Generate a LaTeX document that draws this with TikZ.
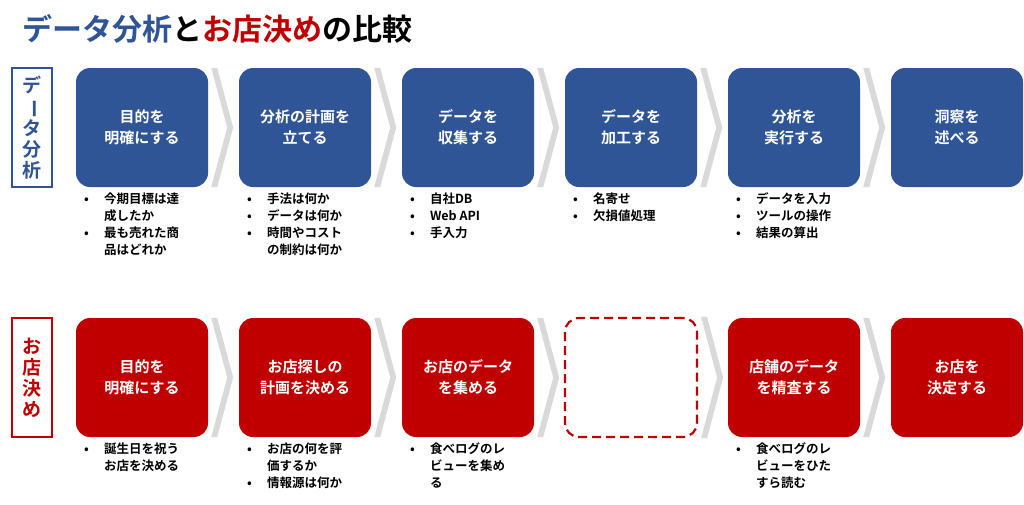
\documentclass[tikz,border=0pt]{standalone}
\usepackage{fontspec}
\setmainfont{Noto Sans CJK JP}[BoldFont={Noto Sans CJK JP Bold}]
\usetikzlibrary{positioning,calc}
\definecolor{dblue}{HTML}{2F5597}
\definecolor{dred}{HTML}{C00000}
\begin{document}
\begin{tikzpicture}[x=1pt,y=-1pt]
  % Define styles
  \tikzset{
    stage/.style={
      draw=none,
      rounded corners=14pt,
      minimum width=132pt,
      minimum height=119pt,
      inner sep=0pt,
      align=center,
      text=white,
      font=\bfseries\fontsize{15}{21}\selectfont
    },
    side/.style={
      draw,
      line width=2pt,
      fill=white,
      minimum width=40pt,
      minimum height=119pt,
      inner sep=0pt,
      align=center,
      font=\bfseries\fontsize{19}{21}\selectfont
    },
    chev/.style={fill=black!15, draw=none},
    notes/.style={
      anchor=north west,
      align=left,
      inner sep=0pt,
      font=\bfseries\fontsize{12.5}{17}\selectfont
    }
  }
  \useasboundingbox (0,0) rectangle (1024,504);

  % Title
  \node[anchor=west, inner sep=0pt, font=\bfseries\fontsize{30}{34}\selectfont] (title) at (22,29)
    {\textcolor{dblue}{データ分析}と\textcolor{dred}{お店決め}の比較};

  % Side labels
  \node[side, draw=dblue, text=dblue] (sa) at (32,127.5)
    {デ\\\rotatebox[origin=c]{-90}{ー}\\タ\\分\\析};
  \node[side, draw=dred, text=dred] (sb) at (32,377.5)
    {お\\店\\決\\め};

  % Upper row
  \foreach \i/\t in {1/{目的を\\明確にする}, 2/{分析の計画を\\立てる}, 3/{データを\\収集する},
                     4/{データを\\加工する}, 5/{分析を\\実行する}, 6/{洞察を\\述べる}} {
    \node[stage, fill=dblue] (a\i) at (142+163*\i-163,127.5) {\t};
  }
  % Lower row
  \foreach \i/\t in {1/{目的を\\明確にする}, 2/{お店探しの\\計画を決める}, 3/{お店のデータ\\を集める},
                     5/{店舗のデータ\\を精査する}, 6/{お店を\\決定する}} {
    \node[stage, fill=dred] (b\i) at (142+163*\i-163,377.5) {\t};
  }
  \node[stage, draw=dred, line width=2.2pt, dash pattern=on 9pt off 5pt, fill=none] (b4) at (631,377.5) {};

  % Chevrons between the stages
  \foreach \r in {a,b} {
    \foreach \i in {1,...,5} {
      \fill[chev] ($(\r\i.north east)+(3,0)$) -- ($(\r\i.north east)+(9,0)$)
        -- ($(\r\i.east)+(25,0)$) -- ($(\r\i.south east)+(9,0)$)
        -- ($(\r\i.south east)+(3,0)$) -- ($(\r\i.east)+(19,0)$) -- cycle;
    }
  }

  % Notes under the stages
  \def\bl#1{\makebox[20pt][l]{•}#1}
  \def\cl#1{\hspace*{20pt}#1}
  \node[notes] (na1) at ([xshift=8pt,yshift=-5pt]a1.south west)
    {\bl{今期目標は達}\\\cl{成したか}\\\bl{最も売れた商}\\\cl{品はどれか}};
  \node[notes] (na2) at ([xshift=8pt,yshift=-5pt]a2.south west)
    {\bl{手法は何か}\\\bl{データは何か}\\\bl{時間やコスト}\\\cl{の制約は何か}};
  \node[notes] (na3) at ([xshift=8pt,yshift=-5pt]a3.south west)
    {\bl{自社DB}\\\bl{Web API}\\\bl{手入力}};
  \node[notes] (na4) at ([xshift=8pt,yshift=-5pt]a4.south west)
    {\bl{名寄せ}\\\bl{欠損値処理}};
  \node[notes] (na5) at ([xshift=8pt,yshift=-5pt]a5.south west)
    {\bl{データを入力}\\\bl{ツールの操作}\\\bl{結果の算出}};
  \node[notes] (nb1) at ([xshift=8pt,yshift=-5pt]b1.south west)
    {\bl{誕生日を祝う}\\\cl{お店を決める}};
  \node[notes] (nb2) at ([xshift=8pt,yshift=-5pt]b2.south west)
    {\bl{お店の何を評}\\\cl{価するか}\\\bl{情報源は何か}};
  \node[notes] (nb3) at ([xshift=8pt,yshift=-5pt]b3.south west)
    {\bl{食べログのレ}\\\cl{ビューを集め}\\\cl{る}};
  \node[notes] (nb5) at ([xshift=8pt,yshift=-5pt]b5.south west)
    {\bl{食べログのレ}\\\cl{ビューをひた}\\\cl{すら読む}};
\end{tikzpicture}
\end{document}
